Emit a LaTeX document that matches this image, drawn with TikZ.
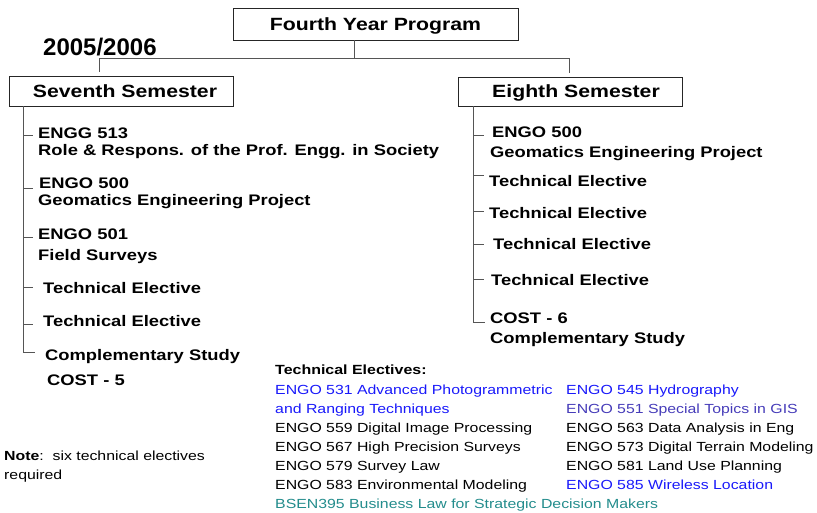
\documentclass[tikz,border=0pt]{standalone}
\usepackage{fontspec}
\setmainfont{Liberation Sans}[FakeStretch=1.2]
\newfontfamily\yearfont{Liberation Sans}
\usetikzlibrary{positioning}
\definecolor{lineg}{RGB}{85,85,85}
\definecolor{eblue}{RGB}{25,25,250}
\definecolor{eslate}{RGB}{70,60,185}
\definecolor{eteal}{RGB}{35,140,140}

\begin{document}
\begin{tikzpicture}[x=1pt, y=-1pt,
    box/.style = {draw=black!85, line width=0.9pt, inner sep=0pt, text height=12.7pt, text depth=0pt, font=\fontsize{17.7}{20}\selectfont\bfseries},
    link/.style = {draw=lineg, line width=0.9pt},
    crs/.style = {anchor=base west, inner sep=0pt, font=\fontsize{15.3}{17}\selectfont\bfseries},
    lst/.style = {anchor=base west, inner sep=0pt, font=\fontsize{13.2}{15}\selectfont}]
\useasboundingbox (0,0) rectangle (817,512);

% program and semesters
\node[box, minimum width=285pt, minimum height=32pt] (prog) at (375.5,24) {Fourth Year Program};
\node[anchor=base west, inner sep=0pt, font=\yearfont\fontsize{24}{26}\selectfont\bfseries] (year) at (43,55) {2005/2006};
\node[box, minimum width=224pt, minimum height=30pt] (sev) at (121,91) {\hspace*{8pt}Seventh Semester};
\node[box, minimum width=224pt, minimum height=29pt] (eig) at (570,91.5) {\hspace*{12pt}Eighth Semester};

\coordinate (split) at (354,58);
\coordinate (lft) at (99,58);
\coordinate (rgt) at (569,58);
\draw[link] (split |- prog.south) -- (split);
\draw[link] ([yshift=4pt]lft |- sev.north) -- (lft) -- (rgt) -- ([yshift=4pt]rgt |- eig.north);

% seventh semester
\node[crs] (s1) at (38,138) {ENGG 513};
\node[crs] (s1t) at (38,155) {Role \& Respons. of the Prof. Engg. in Society};
\node[crs] (s2) at (39,188) {ENGO 500};
\node[crs] (s2t) at (38,205) {Geomatics Engineering Project};
\node[crs] (s3) at (38,239) {ENGO 501};
\node[crs] (s3t) at (38,260) {Field Surveys};
\node[crs] (s4) at (43,293.5) {Technical Elective};
\node[crs] (s5) at (43,326.5) {Technical Elective};
\node[crs] (s6) at (45,360) {Complementary Study};
\node[crs] (s6t) at (47,385.5) {COST - 5};

\coordinate (lspine) at (23,352);
\draw[link] (lspine |- sev.south) -- (lspine) -- ++(12,0);
\foreach \ty in {135,188,237,287,324}
    \draw[link] (23,\ty) -- (33,\ty);

% eighth semester
\node[crs] (e1) at (492,137) {ENGO 500};
\node[crs] (e1t) at (490,157) {Geomatics Engineering Project};
\node[crs] (e2) at (489,186.5) {Technical Elective};
\node[crs] (e3) at (489,218.5) {Technical Elective};
\node[crs] (e4) at (493,249.5) {Technical Elective};
\node[crs] (e5) at (491,285.5) {Technical Elective};
\node[crs] (e6) at (490,323.5) {COST - 6};
\node[crs] (e6t) at (490,343.5) {Complementary Study};

\coordinate (rspine) at (473,322);
\draw[link] (rspine |- eig.south) -- (rspine) -- ++(12,0);
\foreach \ty in {135,175,211,244,279}
    \draw[link] (473,\ty) -- (484,\ty);

% technical electives list
\node[lst, font=\fontsize{13.3}{15}\selectfont\bfseries] (tehead) at (275,374) {Technical Electives:};
\node[lst, text=eblue] (t531) at (275,394) {ENGO 531 Advanced Photogrammetric};
\node[lst, text=eblue] (t531b) at (275,413) {and Ranging Techniques};
\node[lst] (t559) at (275,432) {ENGO 559 Digital Image Processing};
\node[lst] (t567) at (275,451) {ENGO 567 High Precision Surveys};
\node[lst] (t579) at (275,470) {ENGO 579 Survey Law};
\node[lst] (t583) at (275,489) {ENGO 583 Environmental Modeling};
\node[lst, text=eteal] (b395) at (275,508) {BSEN395 Business Law for Strategic Decision Makers};
\node[lst, text=eblue] (t545) at (566,394) {ENGO 545 Hydrography};
\node[lst, text=eslate] (t551) at (566,413) {ENGO 551 Special Topics in GIS};
\node[lst] (t563) at (566,432) {ENGO 563 Data Analysis in Eng};
\node[lst] (t573) at (566,451) {ENGO 573 Digital Terrain Modeling};
\node[lst] (t581) at (566,470) {ENGO 581 Land Use Planning};
\node[lst, text=eblue] (t585) at (566,489) {ENGO 585 Wireless Location};

% note
\node[lst, font=\fontsize{13.2}{15}\selectfont] (note) at (4,460) {\textbf{Note}:\ \ six technical electives};
\node[lst, font=\fontsize{13.2}{15}\selectfont] (note2) at (4,479) {required};
\end{tikzpicture}
\end{document}
